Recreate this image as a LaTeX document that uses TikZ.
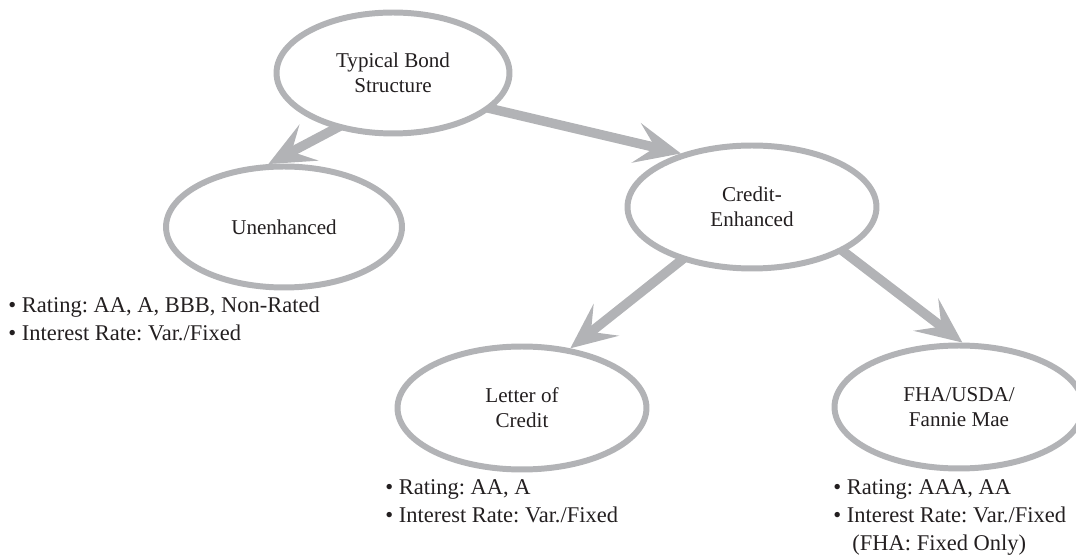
\documentclass[tikz,border=0pt]{standalone}
\usepackage{fontspec}
\setmainfont{Liberation Serif}
\usetikzlibrary{arrows.meta, shapes.geometric, positioning, backgrounds}
\definecolor{ringgray}{RGB}{178,179,182}
\definecolor{inkblack}{RGB}{35,31,32}
\frenchspacing

\begin{document}
\begin{tikzpicture}[x=0.02cm, y=-0.02cm,
  bubble/.style={ellipse, draw=ringgray, fill=white, line width=3.4pt, inner sep=0pt,
    minimum width=4.98cm, minimum height=2.46cm, align=center, text=inkblack,
    font=\fontsize{12}{14.2}\selectfont},
  notes/.style={anchor=north west, inner sep=0pt, align=left, text=inkblack,
    font=\fontsize{12.8}{15.9}\selectfont},
  flow/.style={draw=ringgray, line width=5.4pt, shorten <=-8pt,
    -{Stealth[length=26pt, width=23pt, inset=11pt]}}]
\useasboundingbox (0,0) rectangle (1076,560);

% Draw the ellipses
\node[bubble, minimum width=4.66cm, minimum height=2.42cm] (bond) at (393,73) {Typical Bond\\Structure};
\node[bubble, minimum width=4.72cm, minimum height=2.42cm] (unenh) at (284,227) {Unenhanced};
\node[bubble] (credit) at (752,207) {Credit-\\Enhanced};
\node[bubble] (loc) at (522,408) {Letter of\\Credit};
\node[bubble] (fha) at (959,407) {FHA/USDA/\\Fannie Mae};

% Draw the notes
\node[notes] (unenhnotes) at (8,297) {\textbullet\ Rating: AA, A, BBB, Non-Rated\\
  \textbullet\ Interest Rate: Var./Fixed};
\node[notes] (locnotes) at (385,479) {\textbullet\ Rating: AA, A\\
  \textbullet\ Interest Rate: Var./Fixed};
\node[notes] (fhanotes) at (833,479) {\textbullet\ Rating: AAA, AA\\
  \textbullet\ Interest Rate: Var./Fixed\\
  \hspace*{0.85em}(FHA: Fixed Only)};

% Draw the arrows
\begin{scope}[on background layer]
\draw[flow] (bond.224) -- (unenh.104);
\draw[flow] (bond.-20) -- (credit.143);
\draw[flow] (credit.217) -- (loc.51);
\draw[flow] (credit.-26) -- (fha.87);
\end{scope}
\end{tikzpicture}
\end{document}
